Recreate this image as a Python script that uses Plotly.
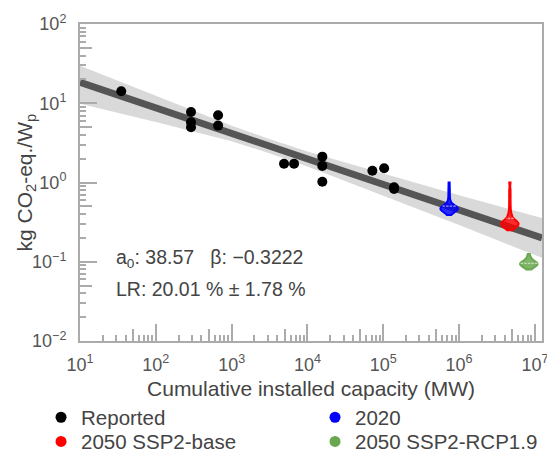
import numpy as np
import plotly.graph_objects as go

# ---- data -------------------------------------------------------------
reported_x = [35, 291, 291, 291, 662, 662, 4910, 6650, 15700, 15700, 15700,
              71800, 102600, 138700, 138700]
reported_y = [14.2, 7.76, 5.75, 4.98, 7.06, 5.22, 1.72, 1.72, 2.12, 1.62, 1.02,
              1.41, 1.51, 0.87, 0.83]

# experience-curve fit: y = a0 * x^beta
a0 = 38.57
beta = -0.3222
lr_mean = 20.01
lr_err = 1.78
fit_x = [1e1, 1.24e7]

# confidence band of the fit
band_x = [1e1, 1e2, 1e3, 3e3, 1e4, 1e5, 1e6, 1.24e7]
band_hi = [29.8, 12.4, 5.19, 3.60, 2.47, 1.30, 0.689, 0.356]
band_lo = [9.86, 5.78, 3.31, 2.38, 1.59, 0.684, 0.290, 0.112]

# scenario distributions (kg CO2-eq./Wp) at projected cumulative capacity (MW)
scen_names = ["2020", "2050 SSP2-base", "2050 SSP2-RCP1.9"]
scen_colors = ["#0000ff", "#ff0000", "#6aa84f"]
scen_fill = ["rgba(0,0,255,0.8)", "rgba(255,0,0,0.8)", "rgba(106,168,79,0.85)"]
scen_mean_col = ["#9a9aff", "#ffa0a0", "#c2e0b5"]
scen_capacity = [7.38e5, 4.67e6, 8.3e6]
scen_samples = [
    [0.39, 0.40, 0.41, 0.42, 0.43, 0.43, 0.44, 0.44, 0.45, 0.45, 0.45, 0.46,
     0.46, 0.46, 0.47, 0.47, 0.47, 0.47, 0.48, 0.48, 0.48, 0.49, 0.49, 0.50,
     0.50, 0.51, 0.52, 0.53, 0.55, 0.58, 0.63, 0.70, 0.78, 0.87, 1.0],
    [0.25, 0.26, 0.265, 0.27, 0.275, 0.28, 0.285, 0.29, 0.29, 0.295, 0.30,
     0.30, 0.30, 0.305, 0.31, 0.31, 0.315, 0.32, 0.325, 0.33, 0.34, 0.35,
     0.36, 0.38, 0.40, 0.44, 0.50, 0.58, 0.68, 0.80, 1.0],
    [0.080, 0.083, 0.085, 0.087, 0.088, 0.089, 0.090, 0.091, 0.092, 0.093,
     0.093, 0.094, 0.094, 0.095, 0.095, 0.096, 0.097, 0.098, 0.099, 0.101,
     0.103, 0.106, 0.110, 0.117, 0.125],
]

x_ticks = [1e1, 1e2, 1e3, 1e4, 1e5, 1e6, 1e7]
x_ticktext = ["10<sup>1</sup>", "10<sup>2</sup>", "10<sup>3</sup>", "10<sup>4</sup>",
              "10<sup>5</sup>", "10<sup>6</sup>", "10<sup>7</sup>"]
y_ticks = [1e-2, 1e-1, 1e0, 1e1, 1e2]
y_ticktext = ["10<sup>\u22122</sup>", "10<sup>\u22121</sup>", "10<sup>0</sup>",
              "10<sup>1</sup>", "10<sup>2</sup>"]

# ---- figure -------------------------------------------------------------
FONT = "Liberation Sans, Arial, sans-serif"
AXC = "#ababab"
TXT = "#444444"
x_range = [1, 7.093]
y_range = [-2, 2]

fig = go.Figure()

fig.add_trace(go.Scatter(x=band_x, y=band_lo, mode="lines", line=dict(width=0),
                         showlegend=False, hoverinfo="skip"))
fig.add_trace(go.Scatter(x=band_x, y=band_hi, mode="lines", line=dict(width=0),
                         fill="tonexty", fillcolor="#d9d9d9",
                         showlegend=False, hoverinfo="skip"))

fit_y = [a0 * xv ** beta for xv in fit_x]
fig.add_trace(go.Scatter(x=fit_x, y=fit_y, mode="lines",
                         line=dict(color="#555555", width=7),
                         showlegend=False, hoverinfo="skip"))

fig.add_trace(go.Scatter(x=reported_x, y=reported_y, mode="markers",
                         marker=dict(color="black", size=10),
                         showlegend=False))

# violins live on linear overlay axes expressed in decades
for name, col, fc, mc, cap, s in zip(scen_names, scen_colors, scen_fill,
                                     scen_mean_col, scen_capacity, scen_samples):
    fig.add_trace(go.Violin(
        x0=np.log10(cap), y=np.log10(s), xaxis="x2", yaxis="y2",
        width=0.23, scalemode="width", spanmode="hard", bandwidth=0.03,
        line=dict(color=col, width=2), fillcolor=fc,
        meanline=dict(visible=True, color=mc, width=1.2),
        points=False, box=dict(visible=False), showlegend=False,
        name=name, hoverinfo="skip"))

# legend entries, one legend per slot of the 2x2 key
leg_items = [("Reported", "black", "legend", 0.0750, 0.0765),
             ("2020", "#0000ff", "legend2", 0.5759, 0.0765),
             ("2050 SSP2-base", "#ff0000", "legend3", 0.0750, 0.0230),
             ("2050 SSP2-RCP1.9", "#6aa84f", "legend4", 0.5759, 0.0230)]
legends = {}
for nm, col, lg, lx, ly in leg_items:
    fig.add_trace(go.Scatter(x=[None], y=[None], mode="markers", name=nm,
                             marker=dict(color=col, size=11), legend=lg))
    legends[lg] = dict(x=lx, y=ly, xref="container", yref="container",
                       xanchor="left", yanchor="middle",
                       font=dict(family=FONT, size=20.5, color=TXT),
                       bgcolor="rgba(0,0,0,0)", itemwidth=30)

five_x = [np.log10(5) + k for k in range(1, 7)]
five_y = [np.log10(5) + k for k in range(-2, 2)]
minor_x = [m * 10 ** k for k in range(1, 7) for m in (2, 3, 4, 6, 7, 8, 9)]
minor_y = [m * 10 ** k for k in range(-2, 2) for m in (2, 3, 4, 6, 7, 8, 9)]

fig.update_layout(
    width=547, height=452,
    margin=dict(l=80, r=5, t=24, b=111, autoexpand=False),
    plot_bgcolor="white", paper_bgcolor="white",
    font=dict(family=FONT, color=TXT),
    xaxis=dict(type="log", range=x_range, showgrid=False, zeroline=False,
               showline=True, linecolor=AXC, linewidth=2, mirror=True,
               ticks="inside", ticklen=17, tickwidth=2, tickcolor=AXC,
               tickmode="array", tickvals=x_ticks, ticktext=x_ticktext,
               tickfont=dict(size=18, color="#555555"), ticklabelstandoff=6,
               ticklabeloverflow="allow", automargin=False,
               minor=dict(tickmode="array", tickvals=minor_x, ticks="inside",
                          ticklen=6, tickwidth=1.5, tickcolor=AXC),
               title=dict(text="Cumulative installed capacity (MW)",
                          font=dict(size=21, color=TXT), standoff=8)),
    yaxis=dict(type="log", range=y_range, showgrid=False, zeroline=False,
               showline=True, linecolor=AXC, linewidth=2, mirror=True,
               ticks="inside", ticklen=17, tickwidth=2, tickcolor=AXC,
               tickmode="array", tickvals=y_ticks, ticktext=y_ticktext,
               tickfont=dict(size=18, color="#555555"), ticklabelstandoff=8,
               ticklabeloverflow="allow", automargin=False,
               minor=dict(tickmode="array", tickvals=minor_y, ticks="inside",
                          ticklen=6, tickwidth=1.5, tickcolor=AXC)),
    xaxis2=dict(overlaying="x", anchor="y2", range=x_range, side="bottom",
                showgrid=False, zeroline=False, showline=False,
                ticks="inside", tickmode="array", tickvals=five_x, ticklen=12,
                tickwidth=1.5, tickcolor=AXC, showticklabels=False,
                automargin=False),
    yaxis2=dict(overlaying="y", anchor="x2", range=y_range, side="left",
                showgrid=False, zeroline=False, showline=False,
                ticks="inside", tickmode="array", tickvals=five_y, ticklen=12,
                tickwidth=1.5, tickcolor=AXC, showticklabels=False,
                automargin=False),
    showlegend=True,
    **legends,
)

# y-axis title
fig.add_annotation(xref="paper", yref="paper", x=-0.119, y=0.5,
                   xanchor="center", yanchor="middle", showarrow=False,
                   textangle=-90, text="kg CO<sub>2</sub>-eq./W<sub>p</sub>",
                   font=dict(size=21, color=TXT))

fig.add_annotation(xref="paper", yref="paper", x=0.0736, y=0.260,
                   xanchor="left", yanchor="middle", showarrow=False,
                   text=f"a<sub>0</sub>: {a0:.2f}\u00a0\u00a0\u00a0\u03b2: {beta:.4f}".replace("-", "\u2212"),
                   font=dict(size=19.5, color=TXT))
fig.add_annotation(xref="paper", yref="paper", x=0.0736, y=0.165,
                   xanchor="left", yanchor="middle", showarrow=False,
                   text=f"LR: {lr_mean:.2f} % \u00b1 {lr_err:.2f} %",
                   font=dict(size=19.5, color=TXT))

fig.write_html("out.html")
